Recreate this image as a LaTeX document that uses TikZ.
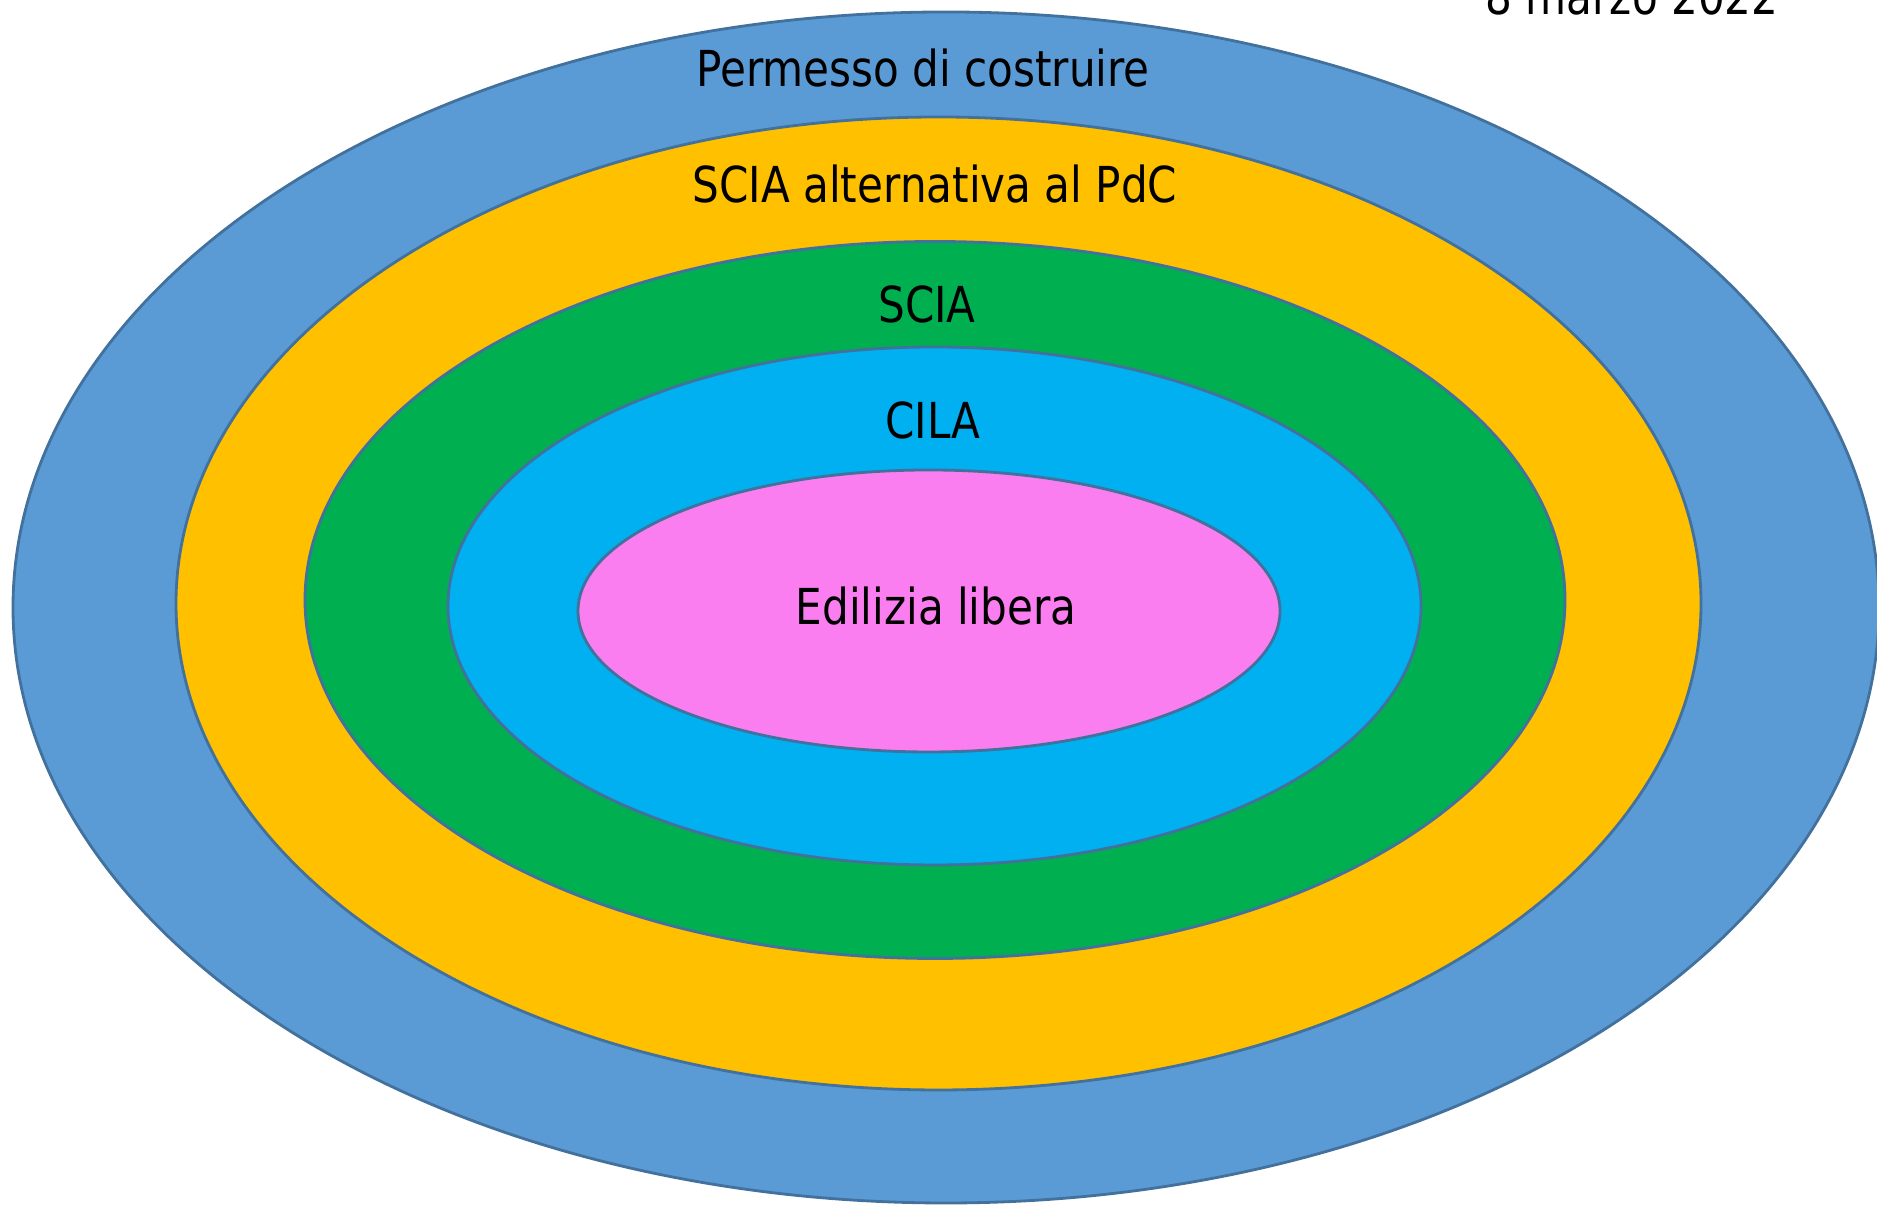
\documentclass[tikz,border=0pt]{standalone}
\usepackage{fontspec}
\setmainfont{DejaVu Sans}[FakeStretch=0.85]
\definecolor{bluPdC}{HTML}{5B9BD5}
\definecolor{gialloSCIA}{HTML}{FFC000}
\definecolor{verdeSCIA}{HTML}{00B050}
\definecolor{azzurroCILA}{HTML}{00B0F0}
\definecolor{rosaEL}{HTML}{FA7EF0}
\definecolor{bordo}{HTML}{41719C}
\tikzset{
	cerchio/.style={draw=bordo,line width=0.8pt},
	etichetta/.style={anchor=base,inner sep=0pt,font=\fontsize{14.1}{16}\selectfont}
}

\begin{document}
\begin{tikzpicture}[line cap=round,line join=round,x=1.0cm,y=1.0cm]
		\useasboundingbox (0,0) rectangle (18.77,12.05);
		\draw [cerchio,fill=bluPdC] (9.46,5.975) ellipse (9.33cm and 5.955cm);
		\draw [cerchio,fill=gialloSCIA] (9.385,6.015) ellipse (7.625cm and 4.865cm);
		\draw [cerchio,fill=verdeSCIA] (9.35,6.05) ellipse (6.30cm and 3.585cm);
		\draw [cerchio,fill=azzurroCILA] (9.345,5.99) ellipse (4.865cm and 2.59cm);
		\draw [cerchio,fill=rosaEL] (9.29,5.94) ellipse (3.51cm and 1.41cm);
		\node[etichetta] (pdc) at (9.23,11.18) {Permesso di costruire};
		\node[etichetta] (sciaalt) at (9.35,10.02) {SCIA alternativa al PdC};
		\node[etichetta] (scia) at (9.27,8.82) {SCIA};
		\node[etichetta] (cila) at (9.33,7.66) {CILA};
		\node[etichetta] (edlib) at (9.36,5.80) {Edilizia libera};
		\node[etichetta] (data) at (16.32,11.90) {8 marzo 2022};
	\end{tikzpicture}
\end{document}
